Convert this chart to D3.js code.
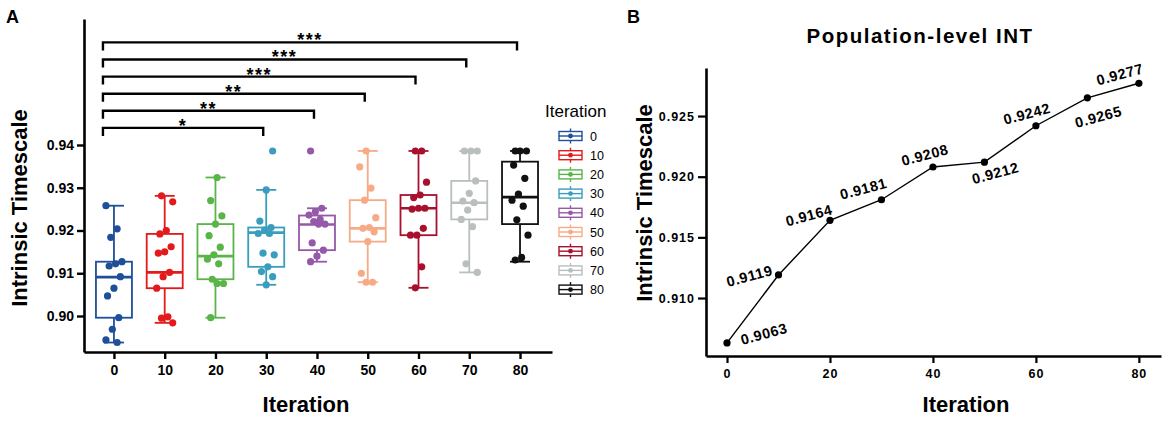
<!DOCTYPE html>
<html>
<head>
<meta charset="utf-8">
<script src="https://cdn.jsdelivr.net/npm/d3@7"></script>
<style>
  body { margin: 0; background: #fff; }
  svg text { font-family: Arial, "Liberation Sans", sans-serif; fill: #000; }
</style>
</head>
<body>
<svg id="chart" width="1170" height="422"></svg>
<script>
// ---- data ----
const iterations = [0, 10, 20, 30, 40, 50, 60, 70, 80]
const boxColors = ['#1f4f99', '#e3191c', '#5ab548', '#3a9dbd', '#9658a8', '#f6ab86', '#a8102e', '#b8bfbe', '#111111']

const whiskerLow  = [0.8938, 0.8984, 0.8996, 0.9073, 0.9127, 0.9079, 0.9066, 0.9102, 0.9127]
const q1          = [0.8996, 0.9065, 0.9086, 0.9115, 0.9154, 0.9174, 0.9189, 0.9226, 0.9215]
const median      = [0.9091, 0.9102, 0.9140, 0.9195, 0.9214, 0.9205, 0.9252, 0.9265, 0.9278]
const q3          = [0.9127, 0.9192, 0.9215, 0.9207, 0.9235, 0.9271, 0.9283, 0.9316, 0.9361]
const whiskerHigh = [0.9258, 0.9281, 0.9324, 0.9295, 0.9252, 0.9386, 0.9386, 0.9386, 0.9386]

const cellValues = [
  [0.9258, 0.9204, 0.9184, 0.9127, 0.9122, 0.9117, 0.9092, 0.9065, 0.9047, 0.8996, 0.8969, 0.8944, 0.8938],
  [0.9281, 0.9267, 0.9200, 0.9192, 0.9162, 0.9150, 0.9147, 0.9102, 0.9092, 0.9065, 0.8998, 0.8995, 0.8984],
  [0.9324, 0.9270, 0.9234, 0.9215, 0.9188, 0.9161, 0.9143, 0.9133, 0.9122, 0.9086, 0.9076, 0.9076, 0.8996],
  [0.9386, 0.9295, 0.9222, 0.9207, 0.9201, 0.9193, 0.9193, 0.9147, 0.9143, 0.9115, 0.9104, 0.9092, 0.9073],
  [0.9386, 0.9252, 0.9244, 0.9236, 0.9226, 0.9221, 0.9215, 0.9215, 0.9171, 0.9154, 0.9140, 0.9127],
  [0.9386, 0.9349, 0.9299, 0.9271, 0.9230, 0.9207, 0.9205, 0.9197, 0.9174, 0.9100, 0.9079, 0.9079],
  [0.9386, 0.9386, 0.9313, 0.9283, 0.9277, 0.9252, 0.9252, 0.9250, 0.9205, 0.9189, 0.9189, 0.9115, 0.9066],
  [0.9386, 0.9386, 0.9386, 0.9316, 0.9287, 0.9269, 0.9265, 0.9248, 0.9226, 0.9209, 0.9122, 0.9102],
  [0.9386, 0.9386, 0.9386, 0.9353, 0.9322, 0.9285, 0.9271, 0.9257, 0.9225, 0.9189, 0.9137, 0.9131]
]

// significance brackets, all against iteration 0
const sigTo    = [30, 40, 50, 60, 70, 80]
const sigStars = ['*', '**', '**', '***', '***', '***']
const sigLevel = [0.944, 0.948, 0.952, 0.956, 0.960, 0.964]

// panel B
const popIteration = [0, 10, 20, 30, 40, 50, 60, 70, 80]
const popINT = [0.9063, 0.9119, 0.9164, 0.9181, 0.9208, 0.9212, 0.9242, 0.9265, 0.9277]
// where each value label sits relative to its point (px)
const popLabelOffset = [[37, -9], [-29, 1], [-21, -5], [-18, -11], [-8, -12], [11, 11], [-9, -12], [11, 19], [-19, -9]]

const svg = d3.select('#chart')

// ================= panel A =================
const xA = d3.scaleLinear().domain([-5.9, 86.3]).range([84, 552])
const yA = d3.scaleLinear().domain([0.89158, 0.96947]).range([352, 19])

const gA = svg.append('g')

const yAxisA = gA.append('g')
  .attr('transform', `translate(${xA.range()[0]},0)`)
  .call(d3.axisLeft(yA)
    .tickValues([0.90, 0.91, 0.92, 0.93, 0.94])
    .tickFormat(d3.format('.2f'))
    .tickSize(7).tickPadding(3).tickSizeOuter(0))

const xAxisA = gA.append('g')
  .attr('transform', `translate(0,${yA.range()[0]})`)
  .call(d3.axisBottom(xA)
    .tickValues(iterations)
    .tickFormat(d3.format('d'))
    .tickSize(7).tickPadding(6).tickSizeOuter(0))

;[yAxisA, xAxisA].forEach(ax => {
  ax.select('.domain').attr('stroke', '#000').attr('stroke-width', 2.6)
  ax.selectAll('.tick line').attr('stroke', '#000').attr('stroke-width', 2.4)
  ax.selectAll('.tick text').attr('font-size', 14).attr('font-weight', 'bold')
    .attr('font-family', 'Arial, "Liberation Sans", sans-serif').attr('fill', '#000')
})

// boxes
const boxW = 36, capW = 20
iterations.forEach((it, i) => {
  const cx = xA(it)
  const c = boxColors[i]
  const g = gA.append('g').attr('stroke', c).attr('fill', 'none')
  g.append('line').attr('x1', cx).attr('x2', cx)
    .attr('y1', yA(whiskerLow[i])).attr('y2', yA(q1[i])).attr('stroke-width', 1.8)
  g.append('line').attr('x1', cx).attr('x2', cx)
    .attr('y1', yA(q3[i])).attr('y2', yA(whiskerHigh[i])).attr('stroke-width', 1.8)
  ;[whiskerLow[i], whiskerHigh[i]].forEach(v => {
    g.append('line').attr('x1', cx - capW / 2).attr('x2', cx + capW / 2)
      .attr('y1', yA(v)).attr('y2', yA(v)).attr('stroke-width', 1.8)
  })
  g.append('rect')
    .attr('x', cx - boxW / 2).attr('width', boxW)
    .attr('y', yA(q3[i])).attr('height', yA(q1[i]) - yA(q3[i]))
    .attr('stroke-width', 1.8)
  g.append('line').attr('x1', cx - boxW / 2).attr('x2', cx + boxW / 2)
    .attr('y1', yA(median[i])).attr('y2', yA(median[i])).attr('stroke-width', 2.6)

  // points, with a fixed (non random) spread around the centre
  gA.append('g').selectAll('circle')
    .data(cellValues[i])
    .join('circle')
    .attr('cx', (d, j) => cx + (((j * 7 + i * 3) % 11) - 5) * 1.6)
    .attr('cy', d => yA(d))
    .attr('r', 3.6)
    .attr('fill', c)
})

// significance brackets
const bracketLeft = xA(0) - 11
sigTo.forEach((to, k) => {
  const yl = yA(sigLevel[k])
  const xr = xA(to) - 3
  gA.append('path')
    .attr('d', `M${bracketLeft},${yl + 8}V${yl}H${xr}V${yl + 8}`)
    .attr('fill', 'none').attr('stroke', '#000').attr('stroke-width', 2.4)
  gA.append('text')
    .attr('x', (bracketLeft + xr) / 2)
    .attr('y', yl + 4)
    .attr('text-anchor', 'middle')
    .attr('font-size', 18).attr('font-weight', 'bold')
    .attr('letter-spacing', 1.5)
    .text(sigStars[k])
})

// axis titles
gA.append('text').attr('x', 306).attr('y', 412).attr('text-anchor', 'middle')
  .attr('font-size', 22).attr('font-weight', 'bold').text('Iteration')
gA.append('text').attr('transform', 'translate(27,208) rotate(-90)').attr('text-anchor', 'middle')
  .attr('font-size', 22).attr('font-weight', 'bold').text('Intrinsic Timescale')
gA.append('text').attr('x', 6).attr('y', 23)
  .attr('font-size', 18).attr('font-weight', 'bold').text('A')

// legend
const legend = gA.append('g').attr('transform', 'translate(545,0)')
legend.append('text').attr('x', 0).attr('y', 117).attr('font-size', 17).text('Iteration')
const legendStep = 19.2
iterations.forEach((it, i) => {
  const ly = 136 + i * legendStep
  const c = boxColors[i]
  const li = legend.append('g').attr('stroke', c).attr('fill', 'none').attr('stroke-width', 1.4)
  li.append('rect').attr('x', 14).attr('y', ly - 4.5).attr('width', 23).attr('height', 9)
  li.append('line').attr('x1', 14).attr('x2', 37).attr('y1', ly).attr('y2', ly)
  li.append('line').attr('x1', 25.5).attr('x2', 25.5).attr('y1', ly - 7.5).attr('y2', ly - 4.5)
  li.append('line').attr('x1', 25.5).attr('x2', 25.5).attr('y1', ly + 4.5).attr('y2', ly + 7.5)
  li.append('circle').attr('cx', 25.5).attr('cy', ly).attr('r', 2.4).attr('fill', c).attr('stroke', 'none')
  legend.append('text').attr('x', 45).attr('y', ly + 4.5).attr('font-size', 12.5).text(it)
})

// ================= panel B =================
const xB = d3.scaleLinear().domain([-4.08, 84.3]).range([706, 1161])
const yB = d3.scaleLinear().domain([0.90522, 0.92896]).range([356, 68])

const gB = svg.append('g')

const yAxisB = gB.append('g')
  .attr('transform', `translate(${xB.range()[0]},0)`)
  .call(d3.axisLeft(yB)
    .tickValues([0.910, 0.915, 0.920, 0.925])
    .tickFormat(d3.format('.3f'))
    .tickSize(8).tickPadding(3).tickSizeOuter(0))

const xAxisB = gB.append('g')
  .attr('transform', `translate(0,${yB.range()[0]})`)
  .call(d3.axisBottom(xB)
    .tickValues([0, 20, 40, 60, 80])
    .tickFormat(d3.format('d'))
    .tickSize(7).tickPadding(6).tickSizeOuter(0))

;[yAxisB, xAxisB].forEach(ax => {
  ax.select('.domain').attr('stroke', '#000').attr('stroke-width', 2.6)
  ax.selectAll('.tick line').attr('stroke', '#000').attr('stroke-width', 2.2)
  ax.selectAll('.tick text').attr('font-size', 12.5).attr('font-weight', 'bold')
    .attr('letter-spacing', 1).attr('font-family', 'Arial, "Liberation Sans", sans-serif').attr('fill', '#000')
})

const popLine = d3.line()
  .x((d, i) => xB(popIteration[i]))
  .y(d => yB(d))

gB.append('path').datum(popINT)
  .attr('d', popLine)
  .attr('fill', 'none').attr('stroke', '#000').attr('stroke-width', 1.4)

gB.append('g').selectAll('circle')
  .data(popINT)
  .join('circle')
  .attr('cx', (d, i) => xB(popIteration[i]))
  .attr('cy', d => yB(d))
  .attr('r', 3.6)
  .attr('fill', '#000')

gB.append('g').selectAll('text')
  .data(popINT)
  .join('text')
  .attr('transform', (d, i) => {
    const [dx, dy] = popLabelOffset[i]
    return `translate(${xB(popIteration[i]) + dx},${yB(d) + dy}) rotate(-15)`
  })
  .attr('text-anchor', 'middle')
  .attr('dy', '0.35em')
  .attr('font-size', 14.5).attr('font-weight', 'bold').attr('letter-spacing', 0.6)
  .text(d => d3.format('.4f')(d))

gB.append('text').attr('x', 920).attr('y', 43).attr('text-anchor', 'middle')
  .attr('font-size', 20.5).attr('font-weight', 'bold').attr('letter-spacing', 1.5)
  .text('Population-level INT')
gB.append('text').attr('x', 966).attr('y', 412).attr('text-anchor', 'middle')
  .attr('font-size', 22).attr('font-weight', 'bold').text('Iteration')
gB.append('text').attr('transform', 'translate(652,203) rotate(-90)').attr('text-anchor', 'middle')
  .attr('font-size', 22).attr('font-weight', 'bold').text('Intrinsic Timescale')
gB.append('text').attr('x', 627).attr('y', 23)
  .attr('font-size', 18).attr('font-weight', 'bold').text('B')
</script>
</body>
</html>
